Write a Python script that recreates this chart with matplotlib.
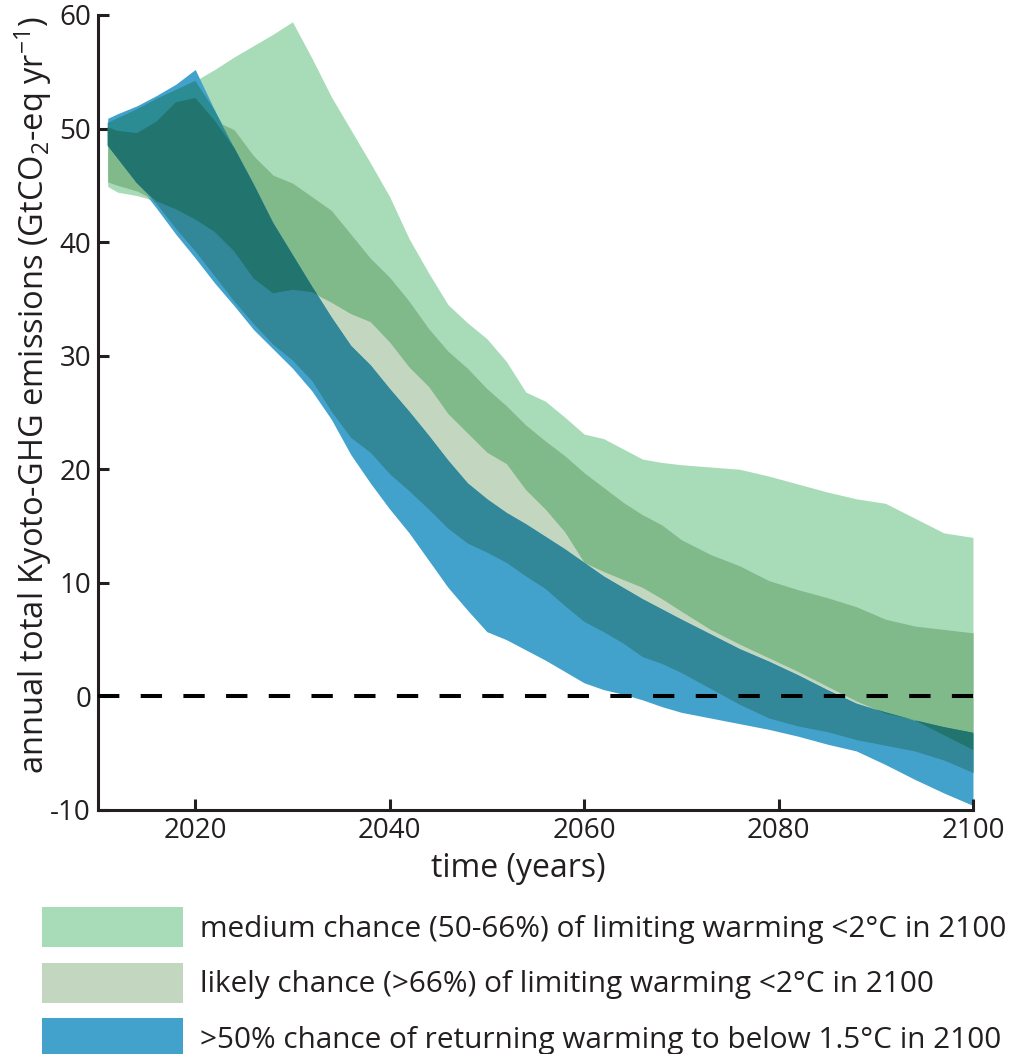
import numpy as np
import matplotlib
matplotlib.use("Agg")
import matplotlib.pyplot as plt
from matplotlib.colors import to_rgb
from matplotlib.patches import Patch

plt.rcParams['font.family'] = ['Open Sans', 'DejaVu Sans']
plt.rcParams['mathtext.default'] = 'regular'
plt.rcParams['axes.unicode_minus'] = False

years = [2011, 2012, 2014, 2016, 2018, 2020, 2022, 2024, 2026, 2028, 2030,
         2032, 2034, 2036, 2038, 2040, 2042, 2044, 2046, 2048, 2050, 2052,
         2054, 2056, 2058, 2060, 2062, 2064, 2066, 2068, 2070, 2073, 2076,
         2079, 2082, 2085, 2088, 2091, 2094, 2097, 2100]

# medium chance (50-66%) <2C
medium_upper = [50.5, 50.9, 51.7, 52.6, 53.4, 54.2, 55.2, 56.3, 57.3, 58.3, 59.4,
                56.2, 52.8, 49.9, 47.0, 44.0, 40.3, 37.3, 34.5, 32.9, 31.5, 29.5,
                26.8, 26.0, 24.6, 23.1, 22.7, 21.8, 20.9, 20.6, 20.4, 20.2, 20.0,
                19.4, 18.7, 18.0, 17.4, 17.0, 15.7, 14.4, 14.0]
medium_lower = [44.9, 44.4, 44.1, 43.6, 42.9, 42.0, 40.9, 39.2, 36.8, 35.5, 35.8,
                35.6, 34.7, 33.7, 33.0, 31.2, 29.0, 27.3, 24.9, 23.2, 21.5, 20.5,
                18.2, 16.5, 14.5, 11.8, 11.0, 10.3, 9.6, 8.6, 7.5, 5.9, 4.6,
                3.4, 2.2, 0.9, -0.4, -1.5, -2.1, -3.4, -4.7]

# likely chance (>66%) <2C
likely_upper = [50.1, 49.8, 49.6, 50.6, 52.3, 52.7, 50.7, 49.9, 47.6, 45.9, 45.2,
                44.0, 42.8, 40.7, 38.6, 36.9, 34.8, 32.4, 30.4, 28.9, 27.1, 25.6,
                23.9, 22.5, 21.2, 19.7, 18.4, 17.1, 16.0, 15.1, 13.8, 12.5, 11.5,
                10.2, 9.4, 8.7, 7.9, 6.8, 6.2, 5.9, 5.6]
likely_lower = [45.3, 45.0, 44.5, 43.4, 41.2, 39.2, 37.0, 34.8, 32.8, 31.0, 29.6,
                27.8, 25.1, 22.8, 21.5, 19.6, 18.1, 16.5, 14.8, 13.5, 12.7, 11.8,
                10.6, 9.5, 8.0, 6.6, 5.7, 4.7, 3.5, 2.9, 2.1, 0.7, -0.7,
                -1.9, -2.6, -3.1, -3.8, -4.3, -4.8, -5.6, -6.7]

# >50% returning to below 1.5C
blue_upper = [50.9, 51.3, 52.0, 52.9, 53.9, 55.2, 51.6, 48.3, 45.1, 41.7, 38.9,
              36.1, 33.4, 30.9, 29.2, 27.1, 25.1, 23.0, 20.8, 18.8, 17.4, 16.2,
              15.2, 14.1, 13.0, 11.8, 10.6, 9.6, 8.6, 7.7, 6.8, 5.5, 4.2,
              3.1, 1.9, 0.6, -0.6, -1.4, -2.1, -2.7, -3.2]
blue_lower = [48.5, 47.4, 45.2, 43.0, 40.7, 38.6, 36.4, 34.4, 32.3, 30.6, 28.9,
              26.9, 24.4, 21.3, 18.8, 16.5, 14.4, 12.0, 9.6, 7.6, 5.7, 5.0,
              4.1, 3.2, 2.2, 1.2, 0.6, 0.2, -0.3, -0.9, -1.4, -1.9, -2.4,
              -2.9, -3.5, -4.2, -4.8, -6.0, -7.3, -8.5, -9.6]

labels = ['medium chance (50-66%) of limiting warming <2°C in 2100',
          'likely chance (>66%) of limiting warming <2°C in 2100',
          '>50% chance of returning warming to below 1.5°C in 2100']
colors = ['#a8dcb8', '#c3d6bf', '#42a2cc']

x = np.array(years)
bands = [(np.array(medium_upper), np.array(medium_lower)),
         (np.array(likely_upper), np.array(likely_lower)),
         (np.array(blue_upper), np.array(blue_lower))]

def multiply(idx):
    # overlapping bands look like a multiply blend of the base colours
    rgb = np.ones(3)
    for i in idx:
        rgb = rgb * np.array(to_rgb(colors[i]))
    return tuple(rgb)

fig = plt.figure(figsize=(10.23, 10.54), dpi=100)
ax = fig.add_axes([0.0958, 0.2315, 0.8553, 0.7543])

combos = [(0,), (1,), (2,), (0, 1), (0, 2), (1, 2), (0, 1, 2)]
for combo in combos:
    hi = np.min([bands[i][0] for i in combo], axis=0)
    lo = np.max([bands[i][1] for i in combo], axis=0)
    ax.fill_between(x, lo, hi, where=hi > lo, interpolate=True,
                    color=multiply(combo), lw=0, zorder=len(combo))

ax.plot([2010, 2100], [0, 0], color='black', lw=2.9, dashes=(5.3, 5.3), zorder=5)

ax.set_xlim(2010, 2100)
ax.set_ylim(-10, 60)
ax.set_xticks([2020, 2040, 2060, 2080, 2100])
ax.set_yticks(range(-10, 61, 10))
for s in ['top', 'right']:
    ax.spines[s].set_visible(False)
for s in ['left', 'bottom']:
    ax.spines[s].set_linewidth(2.2)
    ax.spines[s].set_color('#231f20')
ax.tick_params(direction='in', length=8, width=2.2, colors='#231f20',
               labelsize=20, pad=5)

ax.set_xlabel('time (years)', fontsize=23, color='#231f20')
ax.xaxis.set_label_coords(0.48, -0.053)
ax.set_ylabel('annual total Kyoto-GHG emissions (GtCO$_2$-eq yr$^{-1}$)',
              fontsize=23.5, color='#231f20')
ax.yaxis.set_label_coords(-0.05, 0.522)

handles = [Patch(facecolor=c, edgecolor='none') for c in colors]
fig.legend(handles, labels, loc='upper left', bbox_to_anchor=(0.041, 1 - 907 / 1054),
           frameon=False, borderpad=0, borderaxespad=0, fontsize=21.4,
           handlelength=4.75, handleheight=1.69, labelspacing=0.53,
           handletextpad=0.57, labelcolor='#231f20')

fig.savefig('out.png', dpi=100)
